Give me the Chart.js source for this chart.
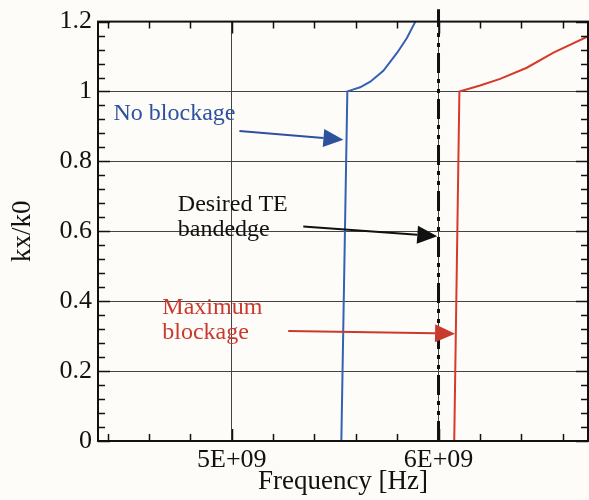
<!DOCTYPE html>
<html><head><meta charset="utf-8">
<script src="https://cdn.jsdelivr.net/npm/chart.js@4"></script>
<style>html,body{margin:0;padding:0;background:#fdfcf8}</style>
</head><body>
<canvas id="c" width="589" height="500"></canvas>
<script>
// Data (frequency in Hz, kx/k0)
const noBlockFreq = [5.530e9, 5.559e9, 5.589e9, 5.621e9, 5.670e9, 5.733e9, 5.800e9, 5.847e9, 5.888e9];
const noBlockKx   = [0, 1, 1.006, 1.012, 1.028, 1.059, 1.111, 1.153, 1.2];
const maxBlockFreq = [6.076e9, 6.101e9, 6.201e9, 6.298e9, 6.427e9, 6.556e9, 6.725e9];
const maxBlockKx   = [0, 1, 1.017, 1.036, 1.068, 1.111, 1.158];
const bandedgeFreq = [6.0e9, 6.0e9];
const bandedgeKx   = [0, 1.235];
const xTickValues = [5e9, 6e9];
const xTickLabels = ['5E+09', '6E+09'];
const yTickValues = [0, 0.2, 0.4, 0.6, 0.8, 1, 1.2];
const yTickLabels = ['0', '0.2', '0.4', '0.6', '0.8', '1', '1.2'];
const xMinorStep = 0.2e9, yMinorStep = 0.04;

const labels = [
  {lines:['No blockage'], color:'#2d519f', x:4.428e9, y:[0.918], tail:[5.037e9,0.887], tip:[5.540e9,0.862]},
  {lines:['Desired TE','bandedge'], color:'#111111', x:4.739e9, y:[0.659,0.586], tail:[5.346e9,0.614], tip:[5.994e9,0.586]},
  {lines:['Maximum','blockage'], color:'#c93a2e', x:4.664e9, y:[0.363,0.293], tail:[5.273e9,0.315], tip:[6.080e9,0.307]}
];

const pts = (xs, ys) => xs.map((x, i) => ({x, y: ys[i]}));
const FONT = 'Liberation Serif';

const decor = {
  id: 'decor',
  beforeDraw(chart) {
    const c = chart.ctx;
    c.save(); c.fillStyle = '#fdfcf8'; c.fillRect(0, 0, chart.width, chart.height); c.restore();
  },
  afterDraw(chart) {
    const c = chart.ctx, a = chart.chartArea, xs = chart.scales.x, ys = chart.scales.y;
    c.save();
    c.strokeStyle = '#111'; c.lineWidth = 2;
    c.strokeRect(a.left, a.top, a.right - a.left, a.bottom - a.top);
    c.lineWidth = 1.5;
    const x0 = Math.ceil(xs.min / xMinorStep) * xMinorStep;
    for (let v = x0; v <= xs.max + 1; v += xMinorStep) {
      const px = Math.round(xs.getPixelForValue(v)) + 0.5;
      const major = xTickValues.some(t => Math.abs(t - v) < 1e6);
      const L = major ? 12 : 7;
      c.beginPath();
      c.moveTo(px, a.bottom); c.lineTo(px, a.bottom - L);
      c.moveTo(px, a.top); c.lineTo(px, a.top + L);
      c.stroke();
    }
    for (let i = 0; i * yMinorStep <= ys.max + 1e-9; i++) {
      const v = i * yMinorStep;
      const py = Math.round(ys.getPixelForValue(v)) + 0.5;
      const major = yTickValues.some(t => Math.abs(t - v) < 1e-6);
      const L = major ? 12 : 7;
      c.beginPath();
      c.moveTo(a.left, py); c.lineTo(a.left + L, py);
      c.moveTo(a.right, py); c.lineTo(a.right - L, py);
      c.stroke();
    }
    c.font = '24px "' + FONT + '"';
    c.textBaseline = 'alphabetic';
    c.textAlign = 'left';
    labels.forEach(l => {
      c.fillStyle = l.color; c.strokeStyle = l.color;
      l.lines.forEach((t, i) => c.fillText(t, xs.getPixelForValue(l.x), ys.getPixelForValue(l.y[i])));
      const tx = xs.getPixelForValue(l.tail[0]), ty = ys.getPixelForValue(l.tail[1]);
      const hx = xs.getPixelForValue(l.tip[0]), hy = ys.getPixelForValue(l.tip[1]);
      const ang = Math.atan2(hy - ty, hx - tx);
      const HL = 20, HW = 9;
      const bx = hx - HL * Math.cos(ang), by = hy - HL * Math.sin(ang);
      c.lineWidth = 2;
      c.beginPath(); c.moveTo(tx, ty); c.lineTo(bx, by); c.stroke();
      c.beginPath();
      c.moveTo(hx, hy);
      c.lineTo(bx + HW * Math.sin(ang), by - HW * Math.cos(ang));
      c.lineTo(bx - HW * Math.sin(ang), by + HW * Math.cos(ang));
      c.closePath(); c.fill();
    });
    c.restore();
  }
};

new Chart(document.getElementById('c'), {
  type: 'scatter',
  data: {
    datasets: [
      {data: pts(noBlockFreq, noBlockKx), showLine: true, borderColor: '#3461b4', borderWidth: 2, pointRadius: 0, tension: 0},
      {data: pts(maxBlockFreq, maxBlockKx), showLine: true, borderColor: '#d63a2a', borderWidth: 2, pointRadius: 0, tension: 0},
      {data: pts(bandedgeFreq, bandedgeKx), showLine: true, borderColor: '#111111', borderWidth: 3, borderDash: [20, 6, 4, 6, 4, 6], pointRadius: 0, clip: false}
    ]
  },
  options: {
    responsive: false, animation: false, devicePixelRatio: 1,
    layout: {padding: {top: 15, right: 1, left: 0, bottom: 0}},
    plugins: {legend: {display: false}, tooltip: {enabled: false}},
    scales: {
      x: {
        type: 'linear', min: 4.353e9, max: 6.723e9,
        afterBuildTicks: s => { s.ticks = xTickValues.map(v => ({value: v})); },
        afterFit: s => { s.height = 59; },
        ticks: {callback: (v) => xTickLabels[xTickValues.indexOf(v)], color: '#111', font: {family: FONT, size: 26}, padding: 4, maxRotation: 0},
        grid: {drawTicks: false, color: '#444', lineWidth: 1},
        border: {display: false},
        title: {display: true, text: 'Frequency [Hz]', color: '#111', font: {family: FONT, size: 27}, padding: {top: 0, bottom: 2}}
      },
      y: {
        type: 'linear', min: 0, max: 1.2,
        afterBuildTicks: s => { s.ticks = yTickValues.map(v => ({value: v})); },
        afterFit: s => { s.width = 98; },
        ticks: {callback: (v) => yTickLabels[yTickValues.findIndex(t => Math.abs(t - v) < 1e-9)], color: '#111', font: {family: FONT, size: 26}, padding: 6},
        grid: {drawTicks: false, color: '#444', lineWidth: 1},
        border: {display: false},
        title: {display: true, text: 'kx/k0', color: '#111', font: {family: FONT, size: 27}, padding: {top: 7, bottom: 0}}
      }
    }
  },
  plugins: [decor]
});
</script>
</body></html>
